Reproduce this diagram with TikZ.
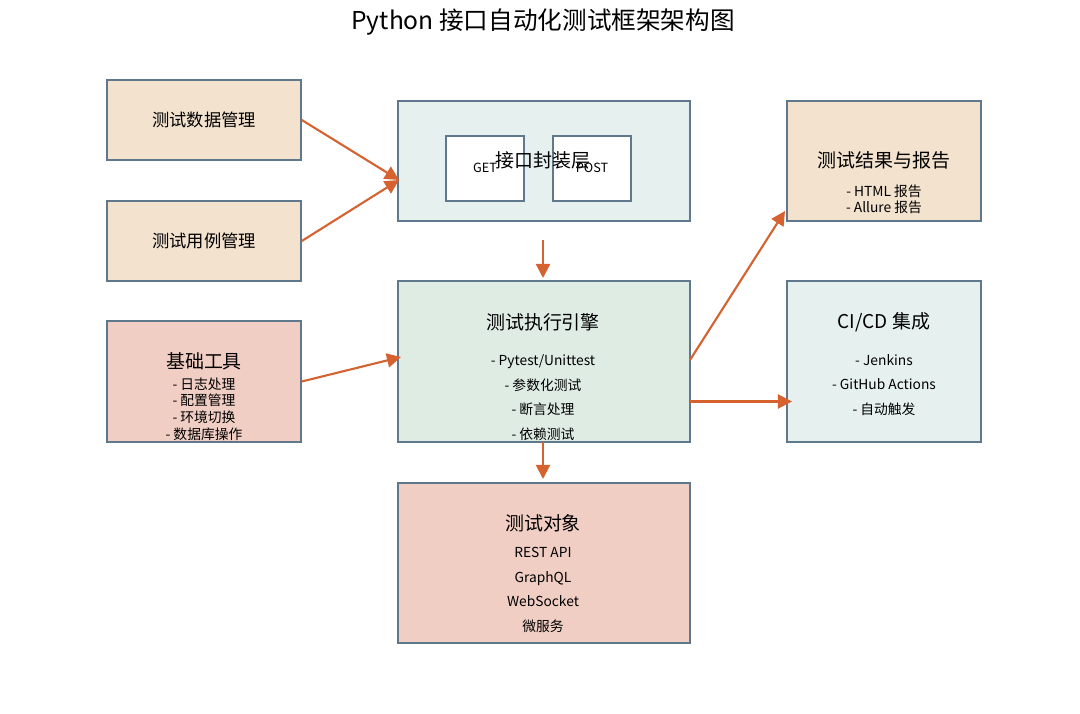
\documentclass[tikz,border=0pt]{standalone}
\usepackage{fontspec}
\setmainfont{Noto Sans CJK SC}
\usetikzlibrary{arrows.meta}

\tikzset{
  box/.style={shape=rectangle,draw=boxline,line width=1.1pt},
  boxtitle/.style={font=\fontsize{13.5}{15}\selectfont},
  items/.style={font=\fontsize{9.8}{17.4}\selectfont,align=center,inner sep=0pt},
  tightitems/.style={font=\fontsize{9.8}{11.8}\selectfont,align=center,inner sep=0pt},
  flow/.style={draw=flowcol,line width=1.5pt,-{Triangle[length=10pt,width=10pt]}},
}

\begin{document}
\begin{tikzpicture}[x=0.025cm,y=-0.025cm]
    \definecolor{boxline}{RGB}{95,120,140}
    \definecolor{flowcol}{RGB}{214,98,48}
    \definecolor{fillsand}{RGB}{242,226,206}
    \definecolor{fillmist}{RGB}{230,240,239}
    \definecolor{fillmint}{RGB}{222,236,228}
    \definecolor{fillrose}{RGB}{240,206,196}
    \useasboundingbox[fill=white] (0,0) rectangle (1080,714);
    \node (title) at (543,22) {\fontsize{17.5}{20}\selectfont Python 接口自动化测试框架架构图};
    % left column
    \node[box,fill=fillsand,minimum width=4.85cm,minimum height=2cm] (data) at (204,120) {};
    \node[boxtitle,font=\fontsize{12.3}{14}\selectfont] (data-t) at (204,120) {测试数据管理};
    \node[box,fill=fillsand,minimum width=4.85cm,minimum height=2cm] (case) at (204,241) {};
    \node[boxtitle,font=\fontsize{12.3}{14}\selectfont] (case-t) at (204,241) {测试用例管理};
    \node[box,fill=fillrose,minimum width=4.85cm,minimum height=3.025cm] (tools) at (204,381.5) {};
    \node[boxtitle] (tools-t) at (204,361) {基础工具};
    \node[tightitems] (tools-i) at (204,409) {- 日志处理\\- 配置管理\\- 环境切换\\- 数据库操作};
    % middle column
    \node[box,fill=fillmist,minimum width=7.3cm,minimum height=3cm] (api) at (544,161) {};
    \node[box,fill=white,minimum width=1.95cm,minimum height=1.625cm] (get) at (485,168.5) {};
    \node[font=\fontsize{9}{11}\selectfont] (get-t) at (485,168) {GET};
    \node[box,fill=white,minimum width=1.95cm,minimum height=1.625cm] (post) at (592,168.5) {};
    \node[font=\fontsize{9}{11}\selectfont] (post-t) at (592,168) {POST};
    \node[boxtitle] (api-t) at (543,160) {接口封装层};
    \node[box,fill=fillmint,minimum width=7.3cm,minimum height=4.025cm] (engine) at (544,361.5) {};
    \node[boxtitle] (engine-t) at (543,322) {测试执行引擎};
    \node[items] (engine-i) at (543,397.5) {- Pytest/Unittest\\- 参数化测试\\- 断言处理\\- 依赖测试};
    \node[box,fill=fillrose,minimum width=7.3cm,minimum height=4cm] (target) at (544,563) {};
    \node[boxtitle] (target-t) at (543,523) {测试对象};
    \node[items] (target-i) at (543,590) {REST API\\GraphQL\\WebSocket\\微服务};
    % right column
    \node[box,fill=fillsand,minimum width=4.85cm,minimum height=3cm] (report) at (884,161) {};
    \node[boxtitle] (report-t) at (884,160) {测试结果与报告};
    \node[tightitems] (report-i) at (884,199.5) {- HTML 报告\\- Allure 报告};
    \node[box,fill=fillmist,minimum width=4.85cm,minimum height=4.025cm] (cicd) at (884,361.5) {};
    \node[boxtitle] (cicd-t) at (884,322) {CI/CD 集成};
    \node[items] (cicd-i) at (884,385) {- Jenkins\\- GitHub Actions\\- 自动触发};
    % connectors
    \coordinate (api-in) at (399,180);
    \coordinate (api-out) at (543,240);
    \coordinate (engine-in) at (401,357);
    \coordinate (engine-top) at (543,278);
    \coordinate (engine-r1) at (690,360);
    \coordinate (engine-r2) at (690,401.5);
    \coordinate (engine-bot) at (543,442);
    \coordinate (report-in) at (785,211);
    \coordinate (cicd-in) at (792,401.5);
    \coordinate (target-in) at (543,479);
    \draw[flow] (data.east) -- (api-in);
    \draw[flow] (case.east) -- (api-in);
    \draw[flow] (api-out) -- (engine-top);
    \draw[flow] (tools.east) -- (engine-in);
    \draw[flow] (engine-r1) -- (report-in);
    \draw[flow] (engine-r2) -- (cicd-in);
    \draw[flow] (engine-bot) -- (target-in);
\end{tikzpicture}
\end{document}
